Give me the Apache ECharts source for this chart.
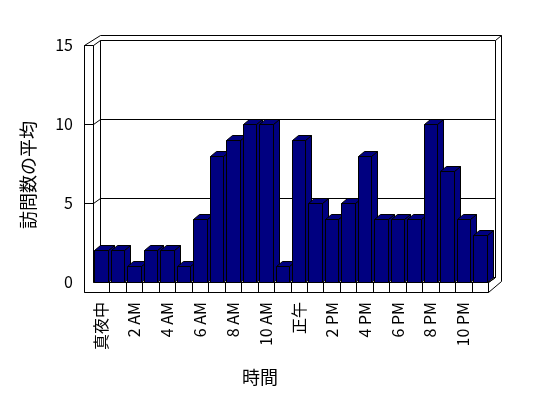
<!DOCTYPE html>
<html><head><meta charset="utf-8">
<script src="https://cdn.jsdelivr.net/npm/echarts@6/dist/echarts.min.js"></script>
<style>html,body{margin:0;padding:0;background:#fff}#c{width:548px;height:398px}</style>
</head><body><div id="c"></div>
<script>
const categories = ['真夜中','1 AM','2 AM','3 AM','4 AM','5 AM','6 AM','7 AM','8 AM','9 AM','10 AM','11 AM',
                    '正午','1 PM','2 PM','3 PM','4 PM','5 PM','6 PM','7 PM','8 PM','9 PM','10 PM','11 PM'];
const visits = [2,2,1,2,2,1,4,8,9,10,10,1,9,5,4,5,8,4,4,4,10,7,4,3];
const yTicks = [0,5,10,15];
const yTitle = '訪問数の平均';
const xTitle = '時間';

const FONT = '"Noto Sans CJK JP", sans-serif';
const BAR = '#000080';
const R = v => Math.round(v) + 0.5;

function renderFrame(params, api) {
  const cs = params.coordSys;
  const x0 = R(cs.x), x1 = R(cs.x + cs.width), yT = R(cs.y), yB = R(cs.y + cs.height);
  const D = [7, -5], T = [6, -6], WL = 9, FT = 10;
  const ln = {stroke:'#000', lineWidth:1, fill:null};
  const wh = {fill:'#fff', stroke:'#000', lineWidth:1};
  const ch = [];
  // outer silhouette
  ch.push({type:'polygon', shape:{points:[
    [x0-WL, yT], [x0+D[0], yT+D[1]+T[1]+1], [x1+D[0]+T[0], yT+D[1]+T[1]+1],
    [x1+D[0]+T[0], yB+FT+D[1]+T[1]], [x1, yB+FT], [x0-WL, yB+FT]]}, style:wh});
  // back wall inner face
  ch.push({type:'rect', shape:{x:x0+D[0], y:yT+D[1], width:x1-x0, height:yB-yT}, style:wh});
  ch.push({type:'line', shape:{x1:x1+D[0], y1:yT+D[1], x2:x1+D[0]+T[0], y2:yT+D[1]+T[1]+1}, style:ln});
  // left wall inner face
  ch.push({type:'polygon', shape:{points:[[x0,yT],[x0+D[0],yT+D[1]],[x0+D[0],yB+D[1]],[x0,yB]]}, style:wh});
  // left wall front face
  ch.push({type:'line', shape:{x1:x0-WL, y1:yT, x2:x0, y2:yT}, style:ln});
  // gridlines
  yTicks.forEach(v => {
    if (v === 0 || v === 15) return;
    const y = R(api.coord([0, v])[1]);
    ch.push({type:'polyline', shape:{points:[[x0-WL,y],[x0,y],[x0+D[0],y+D[1]],[x1+D[0],y+D[1]]]}, style:ln});
  });
  // floor top face
  ch.push({type:'polygon', shape:{points:[[x0,yB],[x1,yB],[x1+D[0],yB+D[1]],[x0+D[0],yB+D[1]]]}, style:wh});
  // floor front face
  ch.push({type:'rect', shape:{x:x0-WL, y:yB, width:x1-x0+WL, height:FT}, style:{fill:'#fff', stroke:null}});
  ch.push({type:'polyline', shape:{points:[[x0,yT],[x0,yB],[x1,yB],[x1,yB+FT],[x0-WL,yB+FT],[x0-WL,yT]]}, style:ln});
  // floor right face
  ch.push({type:'polyline', shape:{points:[[x1,yB],[x1+D[0],yB+D[1]]]}, style:ln});
  // category dividers on floor
  const bw = api.size([1,0])[0];
  for (let i = 1; i < categories.length; i++) {
    const x = R(cs.x + i * bw);
    ch.push({type:'line', shape:{x1:x, y1:yB, x2:x, y2:yB+FT}, style:ln});
  }
  return {type:'group', children:ch};
}

function renderBar(params, api) {
  const i = api.value(0), v = api.value(1);
  const top = api.coord([i, v]);
  const base = api.coord([i, 0]);
  const bw = api.size([1, 0])[0] * 0.82;
  const l = R(top[0] - bw / 2), r = R(top[0] + bw / 2);
  const yt = R(top[1]), yb = R(base[1]);
  const dx = 6, dy = -5;
  const st = {fill:BAR, stroke:'#000', lineWidth:1};
  return {type:'group', children:[
    {type:'polygon', shape:{points:[[r,yt],[r+dx,yt+dy],[r+dx,yb+dy],[r,yb]]}, style:st},
    {type:'polygon', shape:{points:[[l,yt],[l+dx,yt+dy],[r+dx,yt+dy],[r,yt]]}, style:st},
    {type:'rect', shape:{x:l, y:yt, width:r-l, height:yb-yt}, style:st}
  ]};
}

const chart = echarts.init(document.getElementById('c'), null, {renderer:'canvas'});
chart.setOption({
  backgroundColor:'#fff',
  animation:false,
  grid:{left:93, right:60, top:45, bottom:116},
  xAxis:{type:'category', data:categories, boundaryGap:true,
    axisLine:{show:false}, axisTick:{show:false}, splitLine:{show:false},
    axisLabel:{rotate:90, interval:1, margin:20, fontSize:16, color:'#000', fontFamily:FONT}},
  yAxis:{type:'value', min:0, max:15, interval:5,
    axisLine:{show:false}, axisTick:{show:false}, splitLine:{show:false},
    axisLabel:{margin:20, fontSize:16, color:'#000', fontFamily:FONT}},
  graphic:[
    {type:'text', x:28, y:175, rotation:Math.PI/2, style:{text:yTitle, fontSize:18, fontFamily:FONT, fill:'#000', align:'center', verticalAlign:'middle'}},
    {type:'text', x:260, y:377, style:{text:xTitle, fontSize:18, fontFamily:FONT, fill:'#000', align:'center', verticalAlign:'middle'}}
  ],
  series:[
    {type:'custom', z:1, silent:true, renderItem:renderFrame, data:[[0,0]]},
    {type:'custom', z:2, renderItem:renderBar, data:visits.map((v,i)=>[i,v])}
  ]
});
</script></body></html>
